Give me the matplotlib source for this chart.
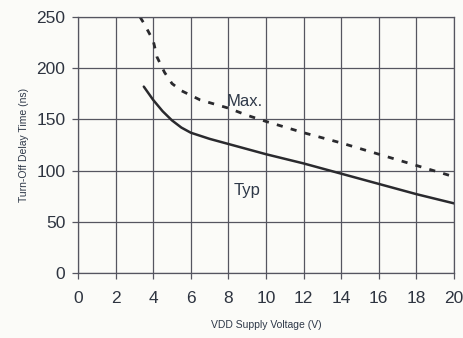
import matplotlib
matplotlib.use("Agg")
import matplotlib.pyplot as plt

plt.rcParams['font.family'] = ['Liberation Sans', 'DejaVu Sans']

# Supply voltage (V) and turn-off delay (ns)
typ_v = [3.5, 4.0, 4.5, 5.0, 5.5, 6.0, 7.0, 8.0, 10.0, 12.0, 14.0, 16.0, 18.0, 20.0]
typ_t = [182, 169, 158, 149, 142, 137, 131, 126, 116, 107, 97, 87, 77, 68]

max_v = [3.3, 3.5, 4.0, 4.2, 4.6, 5.0, 5.5, 6.5, 8.0, 9.0, 10.0, 12.0, 14.0, 16.0, 18.0, 20.0]
max_t = [250, 244, 227, 211, 196, 185, 178, 169, 161, 154, 148, 137, 127, 116, 105, 94]

x_ticks = list(range(0, 21, 2))
y_ticks = [0, 50, 100, 150, 200, 250]

fig = plt.figure(figsize=(4.64, 3.38), dpi=100, facecolor='#fbfbf8')
ax = fig.add_axes([78/464, 1 - 273/338, (454-78)/464, (273-17)/338])
ax.set_facecolor('#fbfbf8')

ax.plot(typ_v, typ_t, color='#2a2a2e', lw=1.8, solid_capstyle='round')
ax.plot(max_v, max_t, color='#2a2a2e', lw=2.0, dashes=(2.2, 3.0))

ax.set_xlim(0, 20)
ax.set_ylim(0, 250)
ax.set_xticks(x_ticks)
ax.set_yticks(y_ticks)
ax.grid(True, color='#555560', lw=0.9)
for s in ax.spines.values():
    s.set_color('#555560')
    s.set_linewidth(0.9)
ax.tick_params(axis='both', colors='#555560', labelcolor='#2e3440', labelsize=12.5,
               length=4, width=0.9)
ax.tick_params(axis='x', pad=9)
ax.tick_params(axis='y', pad=5)

ax.text(7.9, 163, 'Max.', fontsize=12, color='#2e3848')
ax.text(8.3, 76, 'Typ', fontsize=12, color='#2e3848')

ax.set_xlabel('VDD Supply Voltage (V)', fontsize=7.5, color='#2e3848', labelpad=10)
ax.set_ylabel('Turn-Off Delay Time (ns)', fontsize=7.5, color='#2e3848', labelpad=5)

fig.savefig('out.png', dpi=100, facecolor=fig.get_facecolor())
